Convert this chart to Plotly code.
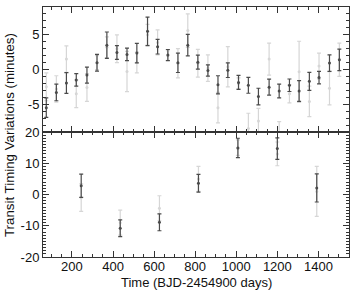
import plotly.graph_objects as go
from plotly.subplots import make_subplots

# Top panel data (days, minutes)
top_x = [75, 124, 173, 221, 273, 322, 370, 419, 468, 516, 568, 617, 667, 716, 764,
         813, 862, 911, 959, 1011, 1059, 1108, 1160, 1209, 1259, 1306, 1356, 1403, 1454, 1502]
top_dark_y = [-5.5, -3.3, -1.95, -1.5, -0.8, 0.97, 3.5, 2.45, 2.17, 2.36, 5.5, 3.28, 2.08, 0.97, 3.5,
              1.06, -0.14, -2.2, -0.1, -1.86, -2.27, -3.9, -2.55, -3.1, -2.27, -3.1, -1.7, -1.16, 0.92, 1.39]
top_dark_err = [1.4, 1.2, 1.5, 0.9, 1.15, 1.2, 1.9, 1.0, 0.9, 1.4, 2.05, 1.05, 0.8, 1.4, 1.55,
                1.0, 0.8, 1.3, 1.05, 1.0, 1.15, 1.2, 1.15, 1.0, 0.9, 1.5, 1.3, 0.9, 1.2, 1.55]
top_light_y = [-2.5, -2.8, 1.5, -3.5, -2.6, 1.0, 3.2, 3.0, -0.3, 1.0, 5.0, 3.9, 2.0, 0.9, 5.6,
               0.9, 0.2, -5.5, 0.4, -2.0, -8.5, -7.4, 1.5, -9.5, -3.5, -0.33, -4.6, 0.5, -2.7, 1.4]
top_light_err = [2.0, 1.9, 1.9, 2.0, 2.0, 1.0, 1.5, 2.0, 2.9, 1.5, 1.5, 1.8, 0.7, 2.1, 2.4,
                 2.0, 1.9, 2.2, 2.9, 0.8, 2.2, 1.8, 2.3, 2.0, 1.3, 4.4, 2.2, 1.85, 2.4, 2.4]

# Bottom panel data
bot_x = [245, 435, 626, 816, 1008, 1200, 1392]
bot_dark_y = [2.8, -10.8, -8.9, 3.6, 14.9, 14.7, 2.1]
bot_dark_err = [3.75, 2.7, 2.7, 2.85, 3.1, 3.45, 4.5]
bot_light_y = [-1.0, -9.0, -4.4, 5.0, 15.0, 13.0, 1.0]
bot_light_err = [4.4, 4.0, 4.0, 4.0, 2.5, 3.8, 8.0]

top_ticks = [-5, 0, 5]
top_ticktext = ["-5", "0", "5"]
bot_ticks = [-20, -10, 0, 10, 20]
bot_ticktext = ["-20", "-10", "0", "10", "20"]
x_ticks = [200, 400, 600, 800, 1000, 1200, 1400]

DARK = "#4a4a4a"
LIGHT = "#d6d6d6"
FONT = "Liberation Sans, Arial, sans-serif"

fig = make_subplots(rows=2, cols=1, shared_xaxes=True, vertical_spacing=0)


def add(x, y, e, color, row):
    fig.add_trace(go.Scatter(
        x=x, y=y, mode="markers",
        marker=dict(color=color, size=3, symbol="circle"),
        error_y=dict(type="data", array=e, visible=True, color=color, thickness=1.2, width=2),
        showlegend=False, cliponaxis=True, hoverinfo="skip",
    ), row=row, col=1)


add(top_x, top_light_y, top_light_err, LIGHT, 1)
add(top_x, top_dark_y, top_dark_err, DARK, 1)
add(bot_x, bot_light_y, bot_light_err, LIGHT, 2)
add(bot_x, bot_dark_y, bot_dark_err, DARK, 2)

axis_common = dict(
    showline=True, linecolor="#333", linewidth=1, mirror="allticks",
    ticks="inside", ticklen=6, tickcolor="#333", tickwidth=1,
    showgrid=False, zeroline=False,
    tickfont=dict(family=FONT, size=13, color="#111"),
)

fig.update_xaxes(range=[59, 1549], tickvals=x_ticks, ticklabelstandoff=-3,
                 minor=dict(ticks="inside", ticklen=3, dtick=50, tickcolor="#333", showgrid=False),
                 **axis_common)
fig.update_xaxes(showticklabels=False, row=1, col=1)
fig.update_yaxes(range=[-9, 9], tickvals=top_ticks, ticktext=top_ticktext,
                 minor=dict(ticks="inside", ticklen=3, tickvals=list(range(-9, 10)), tickcolor="#333", showgrid=False),
                 row=1, col=1, **axis_common)
fig.update_yaxes(range=[-20, 20], tickvals=bot_ticks, ticktext=bot_ticktext,
                 minor=dict(ticks="inside", ticklen=3, tickvals=list(range(-20, 21)), tickcolor="#333", showgrid=False),
                 row=2, col=1, **axis_common)

fig.add_annotation(text="Transit Timing Variations (minutes)", textangle=-90,
                   xref="paper", yref="paper", x=-0.1405, y=0.486, xanchor="left", yanchor="middle",
                   showarrow=False, font=dict(family=FONT, size=13.3, color="#111"))
fig.add_annotation(text="Time (BJD-2454900 days)",
                   xref="paper", yref="paper", x=0.5, y=-0.1, xanchor="center", yanchor="middle",
                   showarrow=False, font=dict(family=FONT, size=13, color="#111"))

fig.update_layout(width=350, height=290, margin=dict(l=43, r=1, t=0, b=33),
                  plot_bgcolor="white", paper_bgcolor="white", hovermode=False)

fig.write_html("out.html", config={"displayModeBar": False, "staticPlot": True},
               post_script="document.body.style.margin='0px';")
